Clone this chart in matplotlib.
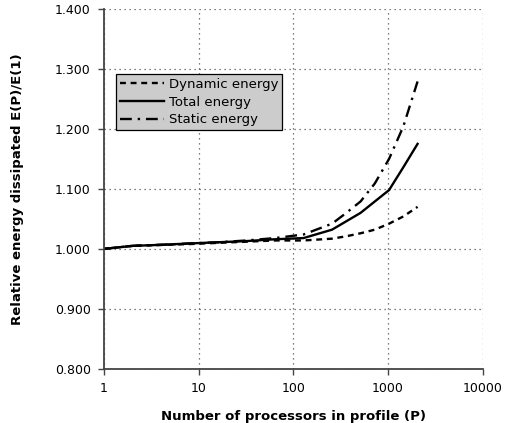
import numpy as np
import matplotlib.pyplot as plt
from matplotlib.ticker import FixedLocator, NullLocator, FuncFormatter

# values
procs = [1, 2, 4, 8, 16, 32, 64, 128, 256, 362, 512, 724, 1024, 1448, 2048]
dynamic_energy = [1.000, 1.005, 1.0065, 1.008, 1.010, 1.012, 1.014, 1.014, 1.017, 1.021, 1.026, 1.032, 1.042, 1.054, 1.070]
total_energy = [1.000, 1.005, 1.0067, 1.009, 1.011, 1.013, 1.016, 1.018, 1.032, 1.046, 1.060, 1.079, 1.098, 1.136, 1.175]
static_energy = [1.000, 1.005, 1.0068, 1.009, 1.011, 1.014, 1.018, 1.024, 1.042, 1.060, 1.079, 1.109, 1.150, 1.204, 1.279]

x_ticks = [1, 10, 100, 1000, 10000]
y_ticks = [0.8, 0.9, 1.0, 1.1, 1.2, 1.3, 1.4]

plt.rcParams['font.family'] = ['DejaVu Sans']

fig = plt.figure(figsize=(5.05, 4.23), dpi=100)
ax = fig.add_axes([0.206, 0.128, 0.750, 0.851])

ax.plot(procs, dynamic_energy, color='black', lw=1.7, dashes=(2.5, 2), label='Dynamic energy')
ax.plot(procs, total_energy, color='black', lw=1.7, label='Total energy')
ax.plot(procs, static_energy, color='black', lw=1.7, dashes=(5, 2.5, 1, 2.5), label='Static energy')

ax.set_xscale('log')
ax.set_xlim(1, 10000)
ax.set_ylim(0.8, 1.4)
ax.xaxis.set_major_locator(FixedLocator(x_ticks))
ax.xaxis.set_minor_locator(NullLocator())
ax.xaxis.set_major_formatter(FuncFormatter(lambda v, p: f"{int(round(v))}"))
ax.yaxis.set_major_locator(FixedLocator(y_ticks))
ax.yaxis.set_major_formatter(FuncFormatter(lambda v, p: f"{v:.3f}"))

ax.grid(True, color='#555555', linestyle=(0, (1, 3)), linewidth=0.9)
ax.spines['top'].set_visible(False)
ax.spines['right'].set_visible(False)
for s in ['left', 'bottom']:
    ax.spines[s].set_color('#444444')
    ax.spines[s].set_linewidth(1.3)
ax.tick_params(direction='out', length=4.5, width=1, colors='#444444', labelcolor='black',
               labelsize=9, pad=5)

ax.set_xlabel('Number of processors in profile (P)', fontsize=9.5, fontweight='bold', labelpad=11)
ax.set_ylabel('Relative energy dissipated E(P)/E(1)', fontsize=9.5, fontweight='bold', labelpad=22)

leg = ax.legend(loc='upper left', bbox_to_anchor=(0.032, 0.819), fontsize=9.5, frameon=True,
                fancybox=False, facecolor='#cccccc', edgecolor='black', framealpha=1,
                handlelength=3.3, handletextpad=0.4, borderpad=0.3, labelspacing=0.35,
                borderaxespad=0)
leg.get_frame().set_linewidth(0.9)

fig.savefig('out.png', dpi=100)
